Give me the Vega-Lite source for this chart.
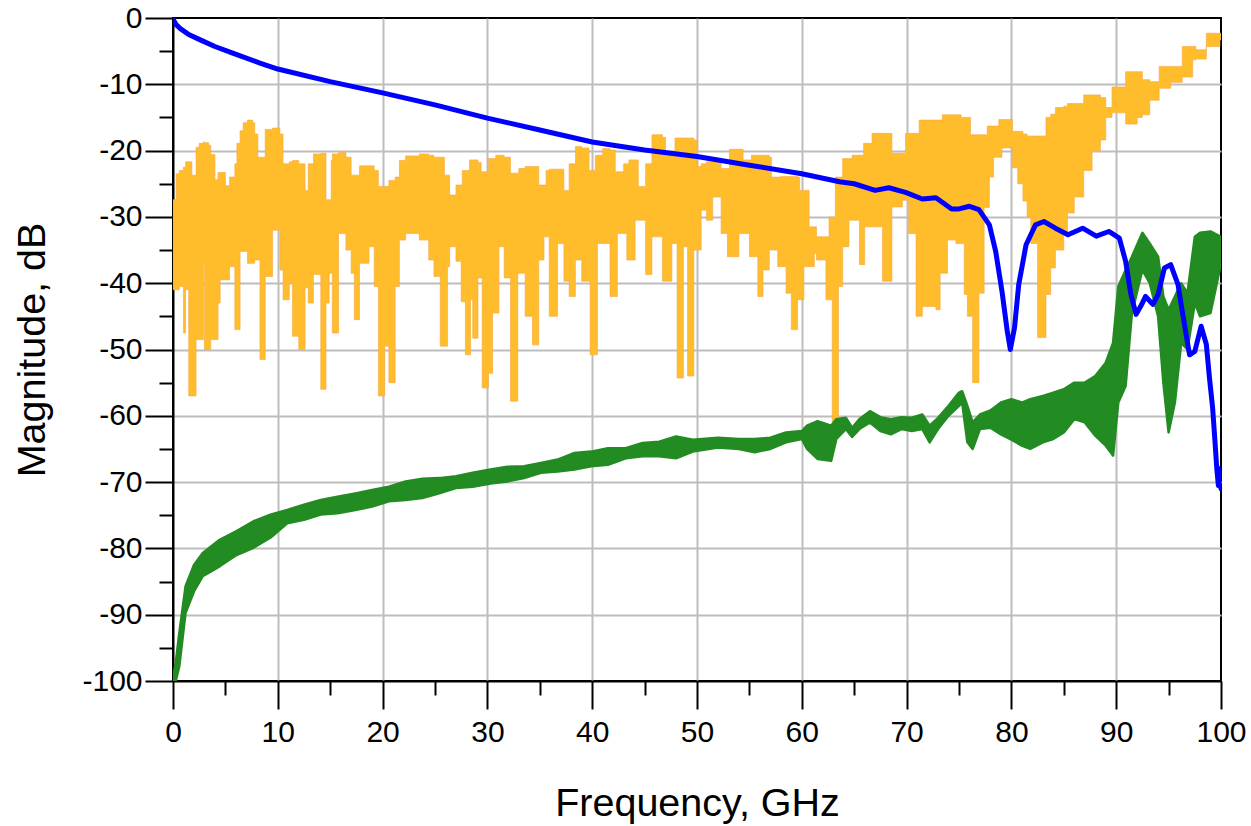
{
  "$schema": "https://vega.github.io/schema/vega-lite/v6.json",
  "width": 1048,
  "height": 663,
  "autosize": "none",
  "padding": {"left": 173, "top": 18, "right": 30, "bottom": 145},
  "background": "white",
  "config": {
    "view": {"stroke": "#000", "strokeWidth": 2},
    "font": "Liberation Sans"
  },
  "datasets": {
    "orange": [
      {"f":0,"db":-41,"db2":-27.4},{"f":0.3,"db":-41,"db2":-23.5},{"f":0.6,"db":-40.5,"db2":-23},{"f":1.0,"db":-47.5,"db2":-22.5},
      {"f":1.2,"db":-41,"db2":-21.7},{"f":1.5,"db":-57,"db2":-21.7},{"f":1.8,"db":-57,"db2":-23.7},{"f":2.2,"db":-48.5,"db2":-19.5},
      {"f":2.5,"db":-48.5,"db2":-18.9},{"f":2.9,"db":-37,"db2":-18.7},{"f":3.0,"db":-50,"db2":-18.8},{"f":3.4,"db":-50,"db2":-19.2},
      {"f":3.6,"db":-48.5,"db2":-20.6},{"f":4.0,"db":-48.5,"db2":-24.4},{"f":4.3,"db":-43,"db2":-23.3},{"f":4.5,"db":-39.5,"db2":-23.3},
      {"f":5.0,"db":-39.5,"db2":-25.3},{"f":5.4,"db":-37.5,"db2":-24},{"f":5.9,"db":-47,"db2":-22},{"f":6.1,"db":-47,"db2":-18.9},
      {"f":6.4,"db":-35.2,"db2":-17},{"f":6.7,"db":-35.2,"db2":-15.8},{"f":7.1,"db":-37,"db2":-15.4},{"f":7.6,"db":-37,"db2":-15.8},
      {"f":7.8,"db":-36.5,"db2":-17.5},{"f":8.1,"db":-36.5,"db2":-21},{"f":8.3,"db":-51.5,"db2":-21},{"f":8.8,"db":-39,"db2":-16.8},
      {"f":9.5,"db":-32,"db2":-16.6},{"f":10.2,"db":-38,"db2":-17.5},{"f":10.5,"db":-42.5,"db2":-22},{"f":11.1,"db":-40,"db2":-21.7},
      {"f":11.4,"db":-48,"db2":-21.5},{"f":12.0,"db":-50,"db2":-22},{"f":12.6,"db":-40.7,"db2":-26},{"f":12.9,"db":-43,"db2":-22},
      {"f":13.4,"db":-38.7,"db2":-20.5},{"f":14.1,"db":-56,"db2":-20.4},{"f":14.6,"db":-43,"db2":-27.4},{"f":14.9,"db":-38.5,"db2":-27.4},
      {"f":15.1,"db":-38.5,"db2":-21.5},{"f":15.2,"db":-47.5,"db2":-20.5},{"f":15.8,"db":-32.5,"db2":-20.3},{"f":16.5,"db":-35,"db2":-21},
      {"f":17.0,"db":-38.5,"db2":-23.7},{"f":17.3,"db":-45.5,"db2":-23.7},{"f":17.8,"db":-37,"db2":-22.3},{"f":18.7,"db":-34.5,"db2":-22.3},
      {"f":19.2,"db":-40.5,"db2":-23},{"f":19.6,"db":-57,"db2":-25.4},{"f":20.2,"db":-49.5,"db2":-25.4},{"f":20.6,"db":-55,"db2":-24.5},
      {"f":21.2,"db":-40.5,"db2":-24},{"f":21.6,"db":-33.5,"db2":-21.5},{"f":22.2,"db":-32.5,"db2":-20.8},{"f":23.5,"db":-33.5,"db2":-20.5},
      {"f":24.4,"db":-36.5,"db2":-20.7},{"f":24.9,"db":-39,"db2":-21},
      {"f":25.5,"db":-49.5,"db2":-21},{"f":25.9,"db":-49.5,"db2":-23.7},{"f":26.2,"db":-37.5,"db2":-23.7},{"f":26.4,"db":-34.5,"db2":-26.7},
      {"f":27.0,"db":-36.7,"db2":-25.2},{"f":27.5,"db":-42.8,"db2":-25.2},{"f":27.6,"db":-42.8,"db2":-23},{"f":27.9,"db":-50.8,"db2":-23},
      {"f":28.3,"db":-50.8,"db2":-21.4},{"f":28.4,"db":-42.5,"db2":-21.4},{"f":28.6,"db":-48.3,"db2":-21.4},{"f":29.1,"db":-39.2,"db2":-21.8},
      {"f":29.4,"db":-39.2,"db2":-23.2},{"f":29.5,"db":-55.8,"db2":-23.2},{"f":30.1,"db":-53.6,"db2":-21.2},{"f":30.5,"db":-44.5,"db2":-21.2},
      {"f":30.8,"db":-44.5,"db2":-20.7},{"f":31.1,"db":-34.5,"db2":-20.7},{"f":31.6,"db":-39.2,"db2":-21},{"f":32.2,"db":-57.8,"db2":-23.4},
      {"f":32.9,"db":-38.5,"db2":-23.4},{"f":33.0,"db":-38.5,"db2":-22.7},{"f":33.6,"db":-45,"db2":-22.4},{"f":34.3,"db":-49.3,"db2":-22.4},
      {"f":34.9,"db":-36.5,"db2":-25.2},{"f":35.4,"db":-33,"db2":-25.2},{"f":35.6,"db":-33,"db2":-23},{"f":35.9,"db":-45,"db2":-22.8},
      {"f":36.7,"db":-34,"db2":-22.8},{"f":37.3,"db":-39.7,"db2":-26},{"f":37.8,"db":-42,"db2":-22},{"f":38.4,"db":-36.5,"db2":-19.4},
      {"f":39.0,"db":-39.7,"db2":-19.6},{"f":39.7,"db":-39.7,"db2":-23},{"f":39.8,"db":-50.8,"db2":-23},{"f":40.3,"db":-50.8,"db2":-20.7},
      {"f":40.5,"db":-34,"db2":-20.7},{"f":41.0,"db":-34,"db2":-19.7},{"f":41.7,"db":-42,"db2":-19.9},{"f":42.2,"db":-42,"db2":-23.2},
      {"f":42.4,"db":-32.5,"db2":-23.2},{"f":43.0,"db":-32.5,"db2":-22},{"f":43.3,"db":-36.5,"db2":-22},{"f":43.5,"db":-36.5,"db2":-21.4},
      {"f":44.1,"db":-30.5,"db2":-21.4},{"f":44.4,"db":-30.5,"db2":-25.4},{"f":45.1,"db":-38.7,"db2":-22},{"f":45.7,"db":-33,"db2":-17.6},
      {"f":46.7,"db":-39.7,"db2":-18},{"f":47.0,"db":-39.7,"db2":-20.2},{"f":47.6,"db":-34,"db2":-20.2},{"f":47.9,"db":-34,"db2":-18.1},
      {"f":48.1,"db":-54.3,"db2":-18.1},{"f":48.7,"db":-34.5,"db2":-18.1},{"f":49.1,"db":-54,"db2":-18.1},{"f":49.7,"db":-35,"db2":-18.4},
      {"f":50.0,"db":-35,"db2":-22.4},{"f":50.4,"db":-29,"db2":-22},{"f":50.9,"db":-30.5,"db2":-21.7},{"f":51.5,"db":-27,"db2":-21.7},
      {"f":52.3,"db":-32.5,"db2":-22.7},{"f":52.9,"db":-36,"db2":-22.7},{"f":53.1,"db":-36,"db2":-19.8},{"f":54.0,"db":-32.5,"db2":-19.8},
      {"f":54.4,"db":-32.5,"db2":-21.4},{"f":55.0,"db":-36,"db2":-21.4},{"f":55.2,"db":-36,"db2":-20.7},{"f":55.8,"db":-42,"db2":-20.7},
      {"f":56.3,"db":-38,"db2":-20.7},{"f":56.9,"db":-35,"db2":-21},{"f":57.1,"db":-35,"db2":-24},{"f":57.7,"db":-37.5,"db2":-24},
      {"f":58.0,"db":-37.5,"db2":-23.9},{"f":58.5,"db":-41.5,"db2":-23.9},{"f":59.0,"db":-47,"db2":-23.9},{"f":59.6,"db":-42.5,"db2":-24},
      {"f":59.8,"db":-42.5,"db2":-26},{"f":60.2,"db":-37.5,"db2":-26},{"f":60.7,"db":-37.5,"db2":-31.5},{"f":61.2,"db":-35.5,"db2":-31.5},
      {"f":61.4,"db":-36.5,"db2":-33},{"f":62.3,"db":-42.5,"db2":-33},{"f":62.6,"db":-42.5,"db2":-30},{"f":62.9,"db":-61.3,"db2":-30},
      {"f":63.2,"db":-61.3,"db2":-24},{"f":63.5,"db":-40.5,"db2":-24},{"f":63.9,"db":-34.5,"db2":-21.2},{"f":64.5,"db":-30.5,"db2":-21.2},
      {"f":64.8,"db":-30.5,"db2":-20.7},{"f":65.5,"db":-37.2,"db2":-20.7},{"f":65.9,"db":-37.2,"db2":-18.9},{"f":66.0,"db":-31.5,"db2":-18.9},
      {"f":66.7,"db":-31.5,"db2":-17.4},{"f":67.7,"db":-39.7,"db2":-17.4},{"f":68.6,"db":-28.5,"db2":-20.4},{"f":69.6,"db":-27.5,"db2":-20.4},
      {"f":69.9,"db":-27.5,"db2":-17.4},{"f":70.2,"db":-32.5,"db2":-17.4},{"f":70.9,"db":-45,"db2":-17.4},{"f":71.2,"db":-45,"db2":-15.4},
      {"f":71.5,"db":-43.5,"db2":-15.4},{"f":72.8,"db":-44,"db2":-15.4},{"f":73.2,"db":-38.5,"db2":-15.4},{"f":73.4,"db":-38.5,"db2":-14.6},
      {"f":73.9,"db":-33.5,"db2":-14.6},{"f":74.7,"db":-34,"db2":-14.6},
      {"f":75.2,"db":-34,"db2":-15},{"f":75.5,"db":-41.7,"db2":-15},{"f":75.8,"db":-45,"db2":-15},{"f":76.1,"db":-45,"db2":-17.6},
      {"f":76.3,"db":-55,"db2":-17.6},{"f":76.9,"db":-41.5,"db2":-17.6},{"f":77.4,"db":-28.6,"db2":-17.6},{"f":77.7,"db":-28.6,"db2":-16.3},
      {"f":77.9,"db":-24,"db2":-16.3},{"f":78.3,"db":-21,"db2":-16.3},{"f":78.8,"db":-21,"db2":-15.3},{"f":79.1,"db":-19.6,"db2":-15.3},
      {"f":80.1,"db":-22.6,"db2":-17.1},{"f":80.6,"db":-25,"db2":-17.1},{"f":81.1,"db":-27.6,"db2":-17.5},{"f":81.5,"db":-30,"db2":-17.8},
      {"f":81.85,"db":-34,"db2":-17.8},{"f":82.5,"db":-48.2,"db2":-17.8},{"f":83.3,"db":-41.7,"db2":-15},{"f":83.75,"db":-37.7,"db2":-14.5},
      {"f":84.2,"db":-35,"db2":-13.5},{"f":85.0,"db":-32.7,"db2":-13.3},{"f":85.35,"db":-29.4,"db2":-12.9},
      {"f":86.0,"db":-27,"db2":-12.9},{"f":86.9,"db":-23,"db2":-11.6},{"f":87.7,"db":-20,"db2":-11.6},{"f":88.5,"db":-18.4,"db2":-12},
      {"f":89.0,"db":-15,"db2":-13.5},{"f":89.6,"db":-14.3,"db2":-10.4},{"f":90.9,"db":-16,"db2":-8.1},{"f":92.0,"db":-15,"db2":-8.1},
      {"f":92.5,"db":-14.6,"db2":-9.3},{"f":93.2,"db":-12.4,"db2":-9.6},{"f":94.1,"db":-10.6,"db2":-7.3},{"f":95.2,"db":-9.7,"db2":-7.3},
      {"f":96.3,"db":-8.9,"db2":-4.3},{"f":97.3,"db":-6.3,"db2":-4.3},{"f":97.6,"db":-6.2,"db2":-4.8},{"f":98.6,"db":-4.3,"db2":-2.3},
      {"f":99.9,"db":-3.3,"db2":-2.3},{"f":100,"db":-3.3,"db2":-2.5}
    ],
    "green": [
      {"f":0,"db":-100.5,"db2":-99.5},{"f":0.26,"db":-100,"db2":-97.3},{"f":0.6,"db":-97.8,"db2":-92.8},{"f":1.2,"db":-89.7,"db2":-85.7},
      {"f":2.0,"db":-86.5,"db2":-82.5},{"f":2.84,"db":-84.2,"db2":-80.7},{"f":4.45,"db":-82.7,"db2":-78.7},{"f":6.06,"db":-81,"db2":-77.4},
      {"f":7.68,"db":-79.9,"db2":-75.9},{"f":9.29,"db":-78.4,"db2":-74.9},{"f":10.9,"db":-76.2,"db2":-74.2},{"f":12.5,"db":-75.7,"db2":-73.4},
      {"f":14.1,"db":-74.9,"db2":-72.7},{"f":15.7,"db":-74.7,"db2":-72.2},{"f":17.4,"db":-74.2,"db2":-71.7},{"f":19,"db":-73.7,"db2":-71.2},
      {"f":20.6,"db":-72.9,"db2":-70.7},{"f":22.2,"db":-72.7,"db2":-69.9},{"f":23.8,"db":-72.4,"db2":-69.5},{"f":25.4,"db":-71.7,"db2":-69.4},
      {"f":27,"db":-70.9,"db2":-69.1},{"f":28.6,"db":-70.7,"db2":-68.6},{"f":30.3,"db":-70.2,"db2":-68.1},{"f":31.9,"db":-69.9,"db2":-67.7},
      {"f":33.5,"db":-69.4,"db2":-67.6},{"f":35.1,"db":-68.6,"db2":-67.1},{"f":36.7,"db":-68.4,"db2":-66.6},{"f":38.3,"db":-68.1,"db2":-65.6},
      {"f":39.9,"db":-67.6,"db2":-65.4},{"f":41.5,"db":-67.4,"db2":-64.9},{"f":43.2,"db":-66.4,"db2":-64.9},{"f":44.8,"db":-66.1,"db2":-64.1},
      {"f":46.4,"db":-66.1,"db2":-63.9},{"f":48,"db":-66.4,"db2":-63.1},{"f":49.6,"db":-65.4,"db2":-63.6},
      {"f":52,"db":-64.8,"db2":-63.3},{"f":54,"db":-65,"db2":-63.5},{"f":55.5,"db":-65.5,"db2":-63.5},{"f":57,"db":-65,"db2":-63.3},
      {"f":58.5,"db":-64,"db2":-62.5},{"f":60,"db":-63.5,"db2":-62.3},{"f":60.5,"db":-65,"db2":-61.5},{"f":61.5,"db":-66.5,"db2":-60.8},
      {"f":62.8,"db":-66.8,"db2":-61.5},{"f":63.3,"db":-63.5,"db2":-60.5},{"f":64.2,"db":-62,"db2":-60.3},{"f":64.8,"db":-63.2,"db2":-61.8},
      {"f":65.5,"db":-62,"db2":-60.5},{"f":66.5,"db":-61,"db2":-59.3},{"f":67.5,"db":-62.3,"db2":-60.2},{"f":68.5,"db":-62.8,"db2":-60.5},
      {"f":69.5,"db":-62,"db2":-60.2},{"f":70.5,"db":-62.3,"db2":-60.3},{"f":71.5,"db":-62,"db2":-59.8},{"f":72.2,"db":-64,"db2":-61.5},
      {"f":73,"db":-62,"db2":-60.3},{"f":74,"db":-60,"db2":-58.5},{"f":75,"db":-58.5,"db2":-56.5},{"f":75.3,"db":-58,"db2":-56.3},
      {"f":75.8,"db":-64,"db2":-58.5},{"f":76.3,"db":-65,"db2":-61},{"f":77,"db":-62,"db2":-59.8},{"f":78,"db":-61.8,"db2":-59.2},
      {"f":79,"db":-62.8,"db2":-58},{"f":80,"db":-63.6,"db2":-57.5},{"f":81,"db":-64.5,"db2":-58},{"f":81.8,"db":-65,"db2":-57.5},
      {"f":83,"db":-64,"db2":-57},{"f":84,"db":-63.5,"db2":-56.5},{"f":85,"db":-62.5,"db2":-56},{"f":86,"db":-60.5,"db2":-55},
      {"f":87,"db":-61,"db2":-55},{"f":88,"db":-63,"db2":-54},{"f":89,"db":-64.5,"db2":-52},{"f":89.7,"db":-66,"db2":-49},
      {"f":90.2,"db":-58,"db2":-40.5},{"f":90.9,"db":-55.5,"db2":-38},{"f":91.5,"db":-44.5,"db2":-36},{"f":92.5,"db":-38,"db2":-32.4},
      {"f":93.2,"db":-40,"db2":-34},{"f":94.0,"db":-45,"db2":-36},{"f":94.5,"db":-55,"db2":-42},{"f":95.0,"db":-62.5,"db2":-44},
      {"f":95.6,"db":-58,"db2":-42},{"f":96.2,"db":-49,"db2":-40},{"f":96.8,"db":-50,"db2":-41.5},{"f":97.5,"db":-43,"db2":-33},
      {"f":98.0,"db":-45,"db2":-32.4},{"f":99.0,"db":-44.5,"db2":-32.2},{"f":100,"db":-37,"db2":-33}
    ],
    "blue": [
      {"f":0,"db":-0.2},{"f":0.3,"db":-1.0},{"f":0.7,"db":-1.6},{"f":1.5,"db":-2.5},{"f":2.6,"db":-3.3},{"f":4,"db":-4.3},
      {"f":5.7,"db":-5.3},{"f":8.3,"db":-6.8},{"f":10,"db":-7.7},{"f":15,"db":-9.6},{"f":20,"db":-11.3},{"f":25,"db":-13.1},
      {"f":30,"db":-15.1},{"f":35,"db":-16.9},{"f":40,"db":-18.7},{"f":45,"db":-19.9},{"f":50,"db":-20.9},{"f":55,"db":-22.2},
      {"f":60,"db":-23.5},{"f":63.6,"db":-24.7},{"f":65,"db":-25.0},{"f":67,"db":-26.0},{"f":68.3,"db":-25.6},{"f":69.9,"db":-26.3},
      {"f":71.5,"db":-27.3},{"f":72.8,"db":-27.1},{"f":74.3,"db":-28.8},{"f":75,"db":-28.8},{"f":76,"db":-28.4},{"f":76.9,"db":-28.9},
      {"f":77.9,"db":-31.2},{"f":78.5,"db":-35.2},{"f":79.1,"db":-41.2},{"f":79.6,"db":-47.2},{"f":79.9,"db":-50},{"f":80.3,"db":-46.7},
      {"f":80.7,"db":-40.2},{"f":81.4,"db":-34.2},{"f":82.3,"db":-31.2},{"f":83.1,"db":-30.7},{"f":84.2,"db":-31.7},{"f":85.4,"db":-32.7},
      {"f":86.8,"db":-31.7},{"f":88.1,"db":-32.9},{"f":89.3,"db":-32.2},{"f":90.3,"db":-33.2},{"f":90.9,"db":-36.7},{"f":91.4,"db":-41.7},
      {"f":91.9,"db":-44.7},{"f":92.4,"db":-43.3},{"f":92.8,"db":-42},{"f":93.5,"db":-43.2},{"f":94.0,"db":-41.7},{"f":94.6,"db":-37.7},
      {"f":95.2,"db":-37.2},{"f":95.9,"db":-40.2},{"f":96.3,"db":-44.2},{"f":97.0,"db":-50.8},{"f":97.5,"db":-50.3},{"f":98.1,"db":-46.5},
      {"f":98.6,"db":-49.2},{"f":98.9,"db":-54.3},{"f":99.2,"db":-58.8},{"f":99.4,"db":-63.3},{"f":99.6,"db":-68},{"f":99.75,"db":-70.5},
      {"f":99.85,"db":-68},{"f":100,"db":-71}
    ]
  },
  "encoding": {
    "x": {
      "field": "f",
      "type": "quantitative",
      "scale": {"domain": [0, 100], "nice": false, "zero": false},
      "axis": {
        "values": [0,5,10,15,20,25,30,35,40,45,50,55,60,65,70,75,80,85,90,95,100],
        "title": "Frequency, GHz",
        "titleFont": "Liberation Sans",
        "titleFontSize": 39.5,
        "titleFontWeight": "normal",
        "titleColor": "#000",
        "titleY": 134,
        "titleBaseline": "alphabetic",
        "labelFont": "Liberation Sans",
        "labelFontSize": 30,
        "labelColor": "#000",
        "labelExpr": "datum.value % 10 === 0 ? '' + datum.value : ''",
        "labelPadding": 8,
        "labelFlush": false,
        "labelOverlap": false,
        "tickSize": {"condition": {"test": "datum.value % 10 === 0", "value": 28}, "value": 14},
        "tickColor": "#000",
        "tickWidth": 2,
        "domainColor": "#000",
        "domainWidth": 2,
        "grid": true,
        "gridColor": "#BDBDBD",
        "gridWidth": 2,
        "gridOpacity": {"condition": {"test": "datum.value % 10 === 0 && datum.value > 0 && datum.value < 100", "value": 1}, "value": 0}
      }
    },
    "y": {
      "field": "db",
      "type": "quantitative",
      "scale": {"domain": [-100, 0], "nice": false, "zero": false},
      "axis": {
        "values": [-100,-95,-90,-85,-80,-75,-70,-65,-60,-55,-50,-45,-40,-35,-30,-25,-20,-15,-10,-5,0],
        "title": "Magnitude, dB",
        "titleFont": "Liberation Sans",
        "titleFontSize": 39.5,
        "titleFontWeight": "normal",
        "titleColor": "#000",
        "titleX": -129,
        "titleBaseline": "alphabetic",
        "labelFont": "Liberation Sans",
        "labelFontSize": 30,
        "labelColor": "#000",
        "labelExpr": "datum.value % 10 === 0 ? '' + datum.value : ''",
        "labelPadding": 3,
        "labelFlush": false,
        "labelOverlap": false,
        "tickSize": {"condition": {"test": "datum.value % 10 === 0", "value": 28}, "value": 14},
        "tickColor": "#000",
        "tickWidth": 2,
        "domainColor": "#000",
        "domainWidth": 2,
        "grid": true,
        "gridColor": "#BDBDBD",
        "gridWidth": 2,
        "gridOpacity": {"condition": {"test": "datum.value % 10 === 0 && datum.value > -100 && datum.value < 0", "value": 1}, "value": 0}
      }
    }
  },
  "layer": [
    {
      "data": {"name": "orange"},
      "mark": {"type": "area", "interpolate": "step-after", "color": "#FFBD2B", "stroke": "#F7A944", "strokeWidth": 0.8, "strokeOpacity": 0.8, "opacity": 1, "clip": true},
      "encoding": {"y2": {"field": "db2"}}
    },
    {
      "data": {"name": "green"},
      "mark": {"type": "area", "interpolate": "linear", "color": "#228B22", "stroke": "#228B22", "strokeWidth": 2.5, "strokeJoin": "round", "clip": true},
      "encoding": {"y2": {"field": "db2"}}
    },
    {
      "data": {"name": "blue"},
      "mark": {"type": "line", "color": "#0000FF", "strokeWidth": 5, "strokeJoin": "round", "strokeCap": "round", "clip": true},
      "encoding": {}
    }
  ]
}
